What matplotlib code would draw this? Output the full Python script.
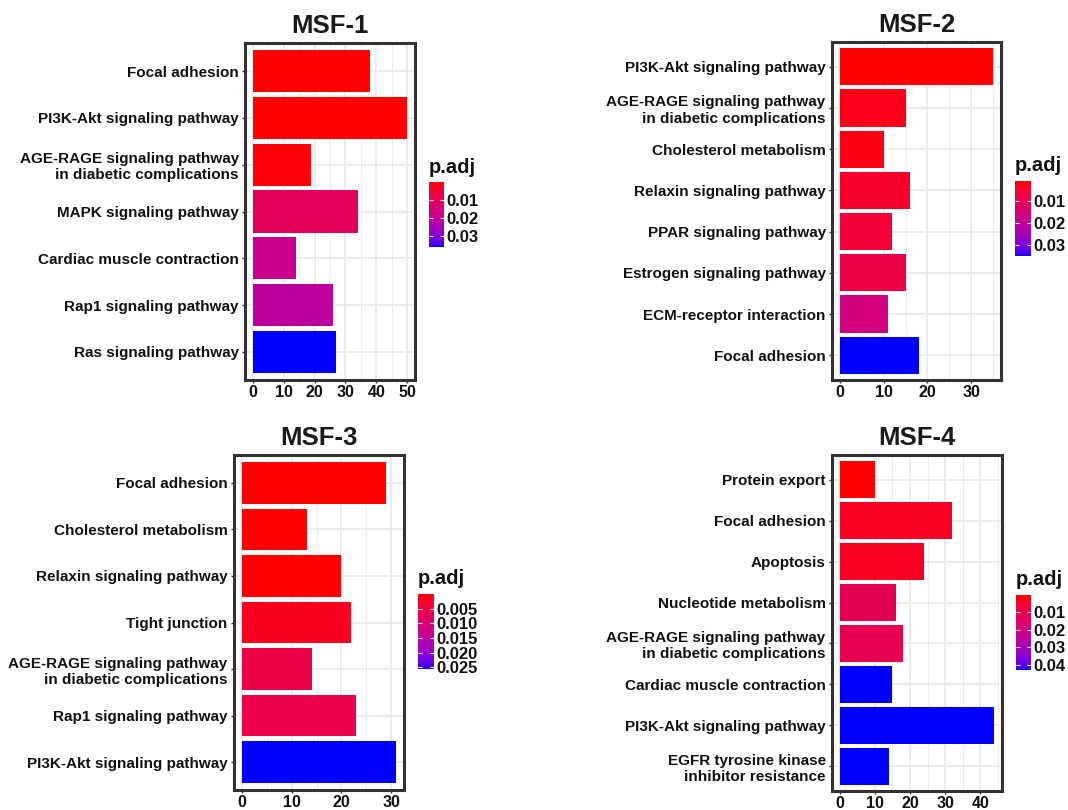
import numpy as np
import matplotlib
matplotlib.use("Agg")
import matplotlib.pyplot as plt
from matplotlib.colors import ListedColormap, Normalize
from matplotlib.cm import ScalarMappable
from matplotlib.ticker import MultipleLocator

plt.rcParams['font.family'] = ['Liberation Sans', 'DejaVu Sans']
plt.rcParams['font.weight'] = 'bold'

# Data (terms listed top to bottom)
msf1_terms = ["Focal adhesion", "PI3K-Akt signaling pathway",
              "AGE-RAGE signaling pathway\nin diabetic complications",
              "MAPK signaling pathway", "Cardiac muscle contraction",
              "Rap1 signaling pathway", "Ras signaling pathway"]
msf1_count = [38, 50, 19, 34, 14, 26, 27]
msf1_padj = [0.0003, 0.0004, 0.0008, 0.0112, 0.0185, 0.0215, 0.0363]

msf2_terms = ["PI3K-Akt signaling pathway",
              "AGE-RAGE signaling pathway\nin diabetic complications",
              "Cholesterol metabolism", "Relaxin signaling pathway",
              "PPAR signaling pathway", "Estrogen signaling pathway",
              "ECM-receptor interaction", "Focal adhesion"]
msf2_count = [35, 15, 10, 16, 12, 15, 11, 18]
msf2_padj = [0.00065, 0.0024, 0.0020, 0.0042, 0.0060, 0.0083, 0.0160, 0.0353]

msf3_terms = ["Focal adhesion", "Cholesterol metabolism",
              "Relaxin signaling pathway", "Tight junction",
              "AGE-RAGE signaling pathway\nin diabetic complications",
              "Rap1 signaling pathway", "PI3K-Akt signaling pathway"]
msf3_count = [29, 13, 20, 22, 14, 23, 31]
msf3_padj = [0.00002, 0.0001, 0.0002, 0.0018, 0.0057, 0.0058, 0.0256]

msf4_terms = ["Protein export", "Focal adhesion", "Apoptosis",
              "Nucleotide metabolism",
              "AGE-RAGE signaling pathway\nin diabetic complications",
              "Cardiac muscle contraction", "PI3K-Akt signaling pathway",
              "EGFR tyrosine kinase\ninhibitor resistance"]
msf4_count = [10, 32, 24, 16, 18, 15, 44, 14]
msf4_padj = [0.0001, 0.0035, 0.0036, 0.0116, 0.0110, 0.0428, 0.0429, 0.0429]

W, H = 1068, 810

# pixel boxes: (left, top, right, bottom)
panels = [
    {'title': 'MSF-1', 'terms': msf1_terms, 'count': msf1_count, 'padj': msf1_padj,
     'box': (245, 43, 415, 380), 'cbar': (429, 182, 444, 247),
     'cticks': [0.01, 0.02, 0.03], 'fmt': '%.2f', 'xstep': 10},
    {'title': 'MSF-2', 'terms': msf2_terms, 'count': msf2_count, 'padj': msf2_padj,
     'box': (832, 42, 1001, 380), 'cbar': (1015, 181, 1031, 256),
     'cticks': [0.01, 0.02, 0.03], 'fmt': '%.2f', 'xstep': 10},
    {'title': 'MSF-3', 'terms': msf3_terms, 'count': msf3_count, 'padj': msf3_padj,
     'box': (234, 455, 404, 790), 'cbar': (418, 594, 434, 669),
     'cticks': [0.005, 0.010, 0.015, 0.020, 0.025], 'fmt': '%.3f', 'xstep': 10},
    {'title': 'MSF-4', 'terms': msf4_terms, 'count': msf4_count, 'padj': msf4_padj,
     'box': (832, 455, 1002, 791), 'cbar': (1016, 595, 1031, 670),
     'cticks': [0.01, 0.02, 0.03, 0.04], 'fmt': '%.2f', 'xstep': 10},
]

WHITE = np.array([0.95047, 1.0, 1.08883])
M = np.array([[0.4124, 0.3576, 0.1805],
              [0.2126, 0.7152, 0.0722],
              [0.0193, 0.1192, 0.9505]])
MINV = np.linalg.inv(M)


def toLab(rgb):
    rgb = np.asarray(rgb, float)
    lin = np.where(rgb <= 0.04045, rgb / 12.92, ((rgb + 0.055) / 1.055) ** 2.4)
    xyz = M @ lin / WHITE
    d = 6 / 29
    f = np.where(xyz > d ** 3, np.cbrt(xyz), xyz / (3 * d ** 2) + 4 / 29)
    return np.array([116 * f[1] - 16, 500 * (f[0] - f[1]), 200 * (f[1] - f[2])])


def fromLab(lab):
    L, a, b = lab
    fy = (L + 16) / 116
    f = np.array([fy + a / 500, fy, fy - b / 200])
    d = 6 / 29
    xyz = np.where(f > d, f ** 3, 3 * d ** 2 * (f - 4 / 29)) * WHITE
    lin = MINV @ xyz
    lin = np.clip(lin, 0, 1)
    rgb = np.where(lin <= 0.0031308, 12.92 * lin, 1.055 * lin ** (1 / 2.4) - 0.055)
    return np.clip(rgb, 0, 1)


def redBlueCmap(n=256):
    lo, hi = toLab([1, 0, 0]), toLab([0, 0, 1])
    cols = [fromLab(lo + (hi - lo) * t) for t in np.linspace(0, 1, n)]
    return ListedColormap(cols)


def figBox(box):
    l, t, r, b = box
    return [l / W, 1 - b / H, (r - l) / W, (b - t) / H]


def drawPanel(fig, cmap, conf):
    ax = fig.add_axes(figBox(conf['box']))
    n = len(conf['terms'])
    ypos = np.arange(n)[::-1]
    norm = Normalize(min(conf['padj']), max(conf['padj']))
    ax.barh(ypos, conf['count'], height=0.9, color=cmap(norm(conf['padj'])), zorder=3)
    xmax = max(conf['count'])
    ax.set_xlim(-0.05 * xmax, 1.05 * xmax)
    ax.set_ylim(-0.6, n - 0.4)
    ax.set_yticks(ypos)
    ax.set_yticklabels(conf['terms'], fontsize=11, fontweight='bold', color='#111111')
    ax.xaxis.set_major_locator(MultipleLocator(conf['xstep']))
    ax.xaxis.set_minor_locator(MultipleLocator(conf['xstep'] / 2))
    for lab in ax.get_xticklabels():
        lab.set_fontsize(11.5)
        lab.set_fontweight('bold')
        lab.set_color('#111111')
    ax.tick_params(axis='both', which='major', length=2.5, width=1, color='#333333', pad=2)
    ax.tick_params(axis='x', which='major', pad=1)
    ax.tick_params(axis='x', which='minor', length=0)
    ax.grid(True, which='major', color='#EBEBEB', linewidth=1.3, zorder=0)
    ax.grid(True, which='minor', axis='x', color='#EBEBEB', linewidth=0.7, zorder=0)
    ax.set_axisbelow(True)
    for s in ax.spines.values():
        s.set_linewidth(2.2)
        s.set_color('#333333')
    ax.set_title(conf['title'], fontsize=18.5, fontweight='bold', color='#1A1A1A', pad=7)

    cax = fig.add_axes(figBox(conf['cbar']))
    cb = fig.colorbar(ScalarMappable(norm=norm, cmap=cmap), cax=cax)
    cb.outline.set_visible(False)
    cb.set_ticks(conf['cticks'])
    cb.set_ticklabels([conf['fmt'] % v for v in conf['cticks']])
    cax.invert_yaxis()
    cax.tick_params(left=True, right=True, direction='in', length=3, width=0.8,
                    color='white', labelsize=12, pad=2, labelcolor='#111111')
    for lab in cax.get_yticklabels():
        lab.set_fontweight('bold')
    cax.text(0, 1.08, 'p.adj', transform=cax.transAxes, ha='left', va='bottom',
             fontsize=14.5, fontweight='bold', color='#111111')


def study():
    fig = plt.figure(figsize=(W / 100, H / 100), dpi=100)
    cmap = redBlueCmap()
    for conf in panels:
        drawPanel(fig, cmap, conf)
    fig.savefig('out.png', dpi=100)


if __name__ == "__main__":
    study()
